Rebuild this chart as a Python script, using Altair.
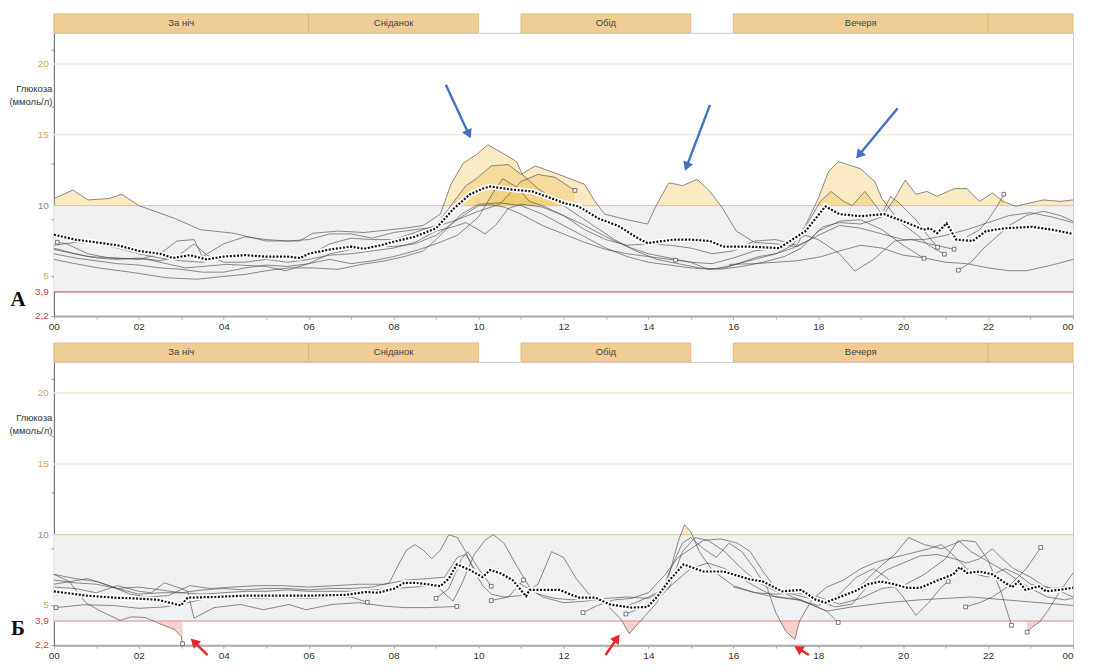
import math
import altair as alt
import pandas as pd

# ---------------- data ----------------
HOUR_TICKS = list(range(0, 25))
Y_LABELS = [2.2, 3.9, 5, 10, 15, 20]
Y_LABEL_COLORS = ["#d03a3a", "#d03a3a", "#cfa85a", "#8a8a8a", "#cfa85a", "#cfa85a"]
Y_MINOR = [3, 4, 6, 7, 8, 9, 11, 12, 13, 14, 16, 17, 18, 19, 21, 22]
TARGET_LOW, TARGET_HIGH = 3.9, 10
MEAL_NAMES = ["За ніч", "Сніданок", "Обід", "Вечеря", ""]
MEAL_START = [0, 6, 11, 16, 22]
MEAL_END = [6, 10, 15, 22, 24]

A_MEDIAN = [(0, 7.95), (0.5, 7.6), (1, 7.4), (1.5, 7.2), (2, 6.8), (2.5, 6.6), (2.8, 6.3), (3.2, 6.5), (3.6, 6.2),
            (4, 6.4), (4.5, 6.5), (5, 6.4), (5.5, 6.4), (5.8, 6.3), (6, 6.6), (6.5, 6.9), (7, 7.1), (7.3, 6.95),
            (7.7, 7.2), (8.0, 7.45), (8.5, 7.8), (9.0, 8.4), (9.42, 9.8), (9.8, 10.8), (10.1, 11.2), (10.27, 11.35),
            (10.73, 11.15), (11.27, 11.0), (11.73, 10.5), (12.04, 10.15), (12.35, 9.95), (12.82, 9.1), (13.3, 8.55),
            (13.75, 7.7), (13.98, 7.35), (14.6, 7.6), (14.98, 7.6), (15.45, 7.5), (15.76, 7.1), (16.38, 7.1),
            (17.08, 7.0), (17.7, 8.2), (18.17, 9.95), (18.5, 9.4), (19.0, 9.25), (19.55, 9.4), (20.0, 8.9),
            (20.48, 8.3), (20.63, 8.4), (20.8, 8.05), (21.02, 8.75), (21.25, 7.6), (21.64, 7.5), (21.95, 8.2),
            (22.4, 8.4), (23.04, 8.5), (23.5, 8.3), (24, 8.0)]

A_T1 = [(0, 10.5), (0.45, 11.1), (0.8, 10.4), (1.3, 10.5), (1.6, 10.8), (2.0, 10.0), (2.84, 9.1), (3.45, 8.3),
        (4.23, 8.05), (5.0, 7.5), (5.78, 7.5), (6.1, 8.05), (6.7, 8.2), (7.3, 8.1), (8.25, 8.4), (8.7, 8.6),
        (9.1, 9.4), (9.35, 11.5), (9.64, 13.0), (9.95, 13.6), (10.22, 14.3), (10.57, 13.7), (10.9, 13.1),
        (11.03, 12.2), (11.4, 11.2), (11.8, 10.4), (12.2, 9.6), (12.7, 8.6), (13.2, 7.6), (13.7, 6.8), (14.2, 6.2),
        (14.7, 5.9), (15.2, 5.6), (15.7, 5.5), (16.2, 5.7), (16.7, 6.0), (17.2, 6.4), (17.6, 7.0), (18.0, 8.2),
        (18.5, 8.9), (19.0, 9.0), (19.5, 8.3), (20.0, 7.2), (20.49, 6.28)]
A_T2 = [(0, 7.2), (0.5, 7.4), (1.0, 7.3), (1.5, 7.0), (2.0, 6.6), (2.5, 6.3), (3.0, 6.1), (3.5, 6.0), (4.0, 6.3),
        (4.5, 6.5), (5.0, 6.5), (5.5, 6.3), (6.0, 6.5), (6.5, 7.3), (7.0, 7.7), (7.5, 7.6), (8.0, 7.6), (8.5, 8.1),
        (9.0, 8.6), (9.4, 10.2), (9.7, 11.4), (9.95, 11.9), (10.3, 12.8), (10.7, 12.9), (11.0, 12.2), (11.34, 12.8),
        (11.8, 12.3), (12.2, 11.85), (12.5, 11.5), (12.74, 10.3), (12.97, 9.4), (13.5, 9.0), (13.98, 8.7),
        (14.2, 10.1), (14.48, 11.6), (14.68, 11.5), (14.8, 11.4), (15.15, 11.85), (15.45, 11.0), (15.75, 9.8),
        (16.07, 8.2), (16.5, 7.4), (17.0, 7.3), (17.5, 7.1), (18.0, 7.9), (18.5, 8.6), (19.0, 8.4), (19.5, 8.0),
        (20.0, 7.6), (20.5, 7.6), (21.0, 7.9), (21.5, 8.3), (22.0, 8.8), (22.5, 9.3), (23.0, 9.5), (23.5, 9.2),
        (24, 8.8)]
A_T3 = [(0, 6.6), (0.5, 6.3), (1.0, 6.1), (1.5, 5.9), (2.0, 5.8), (2.5, 5.6), (3.0, 5.5), (3.5, 5.3), (4.0, 5.3),
        (4.5, 5.6), (5.0, 5.8), (5.5, 5.7), (6.0, 5.9), (6.5, 6.2), (7.0, 5.9), (7.5, 6.1), (8.0, 6.4), (8.5, 6.8),
        (9.0, 7.3), (9.5, 7.9), (10.0, 9.2), (10.34, 10.9), (10.57, 11.9), (10.9, 11.3), (11.2, 10.3), (11.5, 10.0),
        (12.0, 9.3), (12.5, 8.6), (13.0, 7.8), (13.5, 7.1), (14.0, 6.6), (14.5, 6.3), (15.0, 6.0), (15.4, 5.5),
        (15.8, 5.6), (16.2, 6.0), (16.6, 6.4), (17.0, 6.6), (17.4, 7.0), (17.8, 7.6), (18.1, 8.5), (18.5, 8.8),
        (19.0, 8.7), (19.5, 9.2), (19.8, 10.5), (20.05, 11.8), (20.3, 10.8), (20.56, 11.0), (20.8, 10.65),
        (21.2, 11.2), (21.5, 11.2), (21.8, 10.3), (22.1, 10.9), (22.35, 10.3), (22.65, 9.95), (23.0, 10.2),
        (23.3, 10.4), (23.7, 10.3), (24, 10.4)]
A_T4 = [(0, 6.2), (0.5, 5.9), (1.05, 5.6), (1.8, 5.3), (2.67, 4.9), (3.37, 4.8), (4.0, 5.0), (4.53, 5.15),
        (5.0, 5.4), (5.53, 5.6), (6.1, 5.6), (6.7, 5.5), (7.25, 5.85), (7.8, 6.1), (8.25, 6.4), (8.7, 6.8),
        (9.0, 7.6), (9.3, 8.5), (9.6, 9.4), (10.0, 10.1), (10.5, 10.2), (11.0, 10.0), (11.5, 9.4), (12.0, 8.6),
        (12.5, 7.8), (13.0, 7.0), (13.5, 6.4), (14.0, 6.0), (14.5, 5.8), (15.0, 5.6), (15.5, 5.5), (16.0, 5.8),
        (16.5, 6.2), (17.0, 6.6), (17.4, 7.2), (17.7, 8.6), (18.0, 10.5), (18.24, 12.4), (18.47, 13.1),
        (18.6, 13.0), (19.0, 12.6), (19.33, 11.7), (19.5, 10.5), (19.9, 8.9), (20.3, 8.0), (20.6, 7.2),
        (20.97, 6.57)]
A_T5 = [(0, 7.0), (0.5, 6.6), (1.0, 6.3), (1.5, 6.2), (2.0, 6.3), (2.5, 6.1), (2.9, 6.4), (3.3, 7.3), (3.6, 6.5),
        (4.0, 6.0), (4.5, 6.0), (5.0, 6.2), (5.5, 6.0), (6.0, 6.2), (6.5, 6.5), (7.0, 6.6), (7.5, 6.8), (8.0, 7.0),
        (8.5, 7.4), (9.0, 8.2), (9.4, 8.5), (9.7, 8.8), (10.0, 8.3), (10.15, 8.0), (10.4, 8.6), (10.7, 9.8),
        (11.0, 10.1), (11.5, 9.9), (12.0, 9.3), (12.5, 8.3), (13.0, 7.6), (13.5, 7.2), (14.0, 7.3), (14.5, 7.2),
        (15.0, 7.0), (15.5, 6.6), (16.0, 6.8), (16.5, 7.5), (17.0, 7.6), (17.5, 7.2), (17.8, 9.0), (18.05, 10.3),
        (18.3, 11.0), (18.6, 10.3), (18.8, 10.0), (19.1, 11.0), (19.3, 10.2), (19.5, 9.4), (19.7, 10.65),
        (19.9, 10.2), (20.3, 9.0), (20.6, 7.8), (20.81, 7.06)]
A_T6 = [(0.08, 7.41), (0.3, 7.3), (0.8, 6.6), (1.3, 6.3), (2.0, 6.2), (2.5, 6.6), (2.9, 7.5), (3.3, 7.6),
        (3.5, 6.4), (4.0, 7.3), (4.5, 7.8), (5.0, 7.6), (5.5, 7.5), (6.0, 7.6), (6.5, 8.0), (7.0, 8.0), (7.5, 7.7),
        (8.0, 8.1), (8.5, 8.3), (9.0, 8.5), (9.5, 9.0), (10.0, 9.6), (10.5, 10.1), (11.0, 11.7), (11.4, 12.2),
        (11.8, 12.0), (12.27, 11.07)]
A_T7 = [(0, 6.9), (0.8, 6.4), (2.2, 6.2), (3.1, 5.6), (4.07, 5.85), (5.0, 5.7), (5.46, 5.4), (6.0, 5.9),
        (6.5, 6.6), (7.0, 6.9), (7.5, 7.2), (8.0, 7.1), (8.5, 7.3), (9.0, 7.9), (9.5, 9.0), (10.0, 10.0),
        (10.3, 10.05), (10.6, 9.9), (11.0, 9.4), (11.5, 8.6), (12.0, 8.0), (12.5, 7.4), (13.0, 6.9), (13.5, 6.6),
        (14.0, 6.4), (14.64, 6.15)]
A_T8 = [(14.64, 6.15), (15.0, 6.0), (15.5, 5.9), (16.0, 6.3), (16.5, 6.8), (17.0, 7.0), (17.3, 7.4), (17.7, 7.9),
        (18.0, 7.6), (18.5, 6.6), (18.86, 5.37), (19.3, 6.2), (19.8, 7.5), (20.2, 7.6), (20.6, 7.3), (21.2, 6.92)]
A_T9 = [(21.3, 5.44), (21.6, 6.0), (21.9, 7.0), (22.2, 7.8), (22.5, 8.6), (22.9, 9.3), (23.3, 9.6), (23.7, 9.3),
        (24, 8.9)]
A_T10 = [(15.9, 5.85), (16.5, 5.9), (17.0, 6.0), (17.5, 6.1), (18.08, 6.4), (18.5, 6.8), (19.0, 7.2), (19.5, 7.0),
         (20.0, 6.5), (20.5, 6.3), (21.0, 6.0), (21.5, 5.9), (22.0, 5.6), (22.5, 5.4), (22.9, 5.4), (23.5, 5.8),
         (24, 6.2)]
A_T11 = [(21.5, 7.8), (21.8, 8.3), (22.0, 9.0), (22.2, 9.9), (22.37, 10.8)]
A_SQUARES = [(0.08, 7.41), (12.27, 11.07), (14.64, 6.15), (20.49, 6.28), (20.81, 7.06), (20.97, 6.57),
             (21.2, 6.92), (21.3, 5.44), (22.37, 10.8)]
A_ARROWS = [(9.23, 18.54, 9.83, 14.66), (15.45, 17.11, 14.85, 12.36), (19.87, 16.87, 18.87, 13.24)]

B_MEDIAN = [(0, 6.0), (0.75, 5.7), (1.45, 5.55), (1.9, 5.5), (2.45, 5.4), (2.99, 5.0), (3.15, 5.55), (3.77, 5.6),
            (4.54, 5.7), (5.3, 5.7), (6.1, 5.7), (6.86, 5.75), (7.33, 5.95), (7.64, 5.9), (8.02, 6.2), (8.25, 6.6),
            (8.5, 6.6), (8.8, 6.5), (9.1, 6.36), (9.3, 6.9), (9.49, 7.9), (9.8, 7.5), (10.1, 7.0), (10.27, 7.5),
            (10.5, 7.3), (10.8, 6.8), (11.12, 5.65), (11.2, 6.1), (11.9, 6.1), (12.36, 5.56), (12.75, 5.56),
            (13.1, 5.07), (13.6, 4.85), (13.98, 4.9), (14.2, 5.6), (14.5, 6.8), (14.83, 7.9), (15.3, 7.4),
            (15.77, 7.4), (16.38, 6.85), (16.69, 6.7), (17.15, 6.0), (17.6, 6.1), (17.93, 5.42), (18.17, 5.2),
            (18.46, 5.55), (18.86, 6.0), (19.17, 6.5), (19.47, 6.7), (19.79, 6.5), (20.1, 6.25), (20.4, 6.25),
            (20.86, 6.83), (21.18, 7.2), (21.33, 7.7), (21.5, 7.3), (21.8, 7.4), (22.1, 7.2), (22.4, 6.6),
            (22.57, 6.3), (22.72, 6.7), (22.88, 6.1), (23.2, 6.35), (23.36, 6.0), (23.67, 6.1), (24, 6.25)]

B_T1 = [(0, 7.2), (0.36, 6.7), (0.75, 5.2), (1.1, 4.6), (1.56, 3.95), (1.83, 4.2), (2.15, 4.15), (2.53, 3.66),
        (2.84, 3.3), (3.0, 2.8), (3.03, 2.3)]
B_T2 = [(0, 6.3), (0.5, 6.2), (1.0, 5.9), (1.5, 6.4), (2.0, 6.0), (2.3, 5.9), (2.6, 6.6), (3.0, 6.2), (3.15, 6.0),
        (3.3, 4.1), (3.77, 4.85), (4.4, 5.07), (4.93, 4.7), (5.54, 5.07), (5.93, 4.7), (6.55, 5.07), (7.17, 5.2),
        (7.8, 4.95), (8.25, 4.85), (8.8, 4.85), (9.49, 4.93)]
B_T3 = [(0, 6.8), (0.5, 6.6), (1.0, 6.5), (1.5, 6.2), (2.0, 6.3), (2.5, 6.1), (3.0, 5.9), (3.5, 6.1), (4.0, 6.2),
        (4.5, 6.1), (5.0, 6.2), (5.5, 6.2), (6.0, 6.1), (6.5, 6.2), (7.0, 6.2), (7.5, 6.3), (7.9, 6.6), (8.1, 7.8),
        (8.3, 8.9), (8.5, 9.3), (8.7, 8.9), (8.9, 8.3), (9.1, 8.9), (9.3, 10.0), (9.5, 9.8), (9.7, 8.8),
        (9.9, 7.4), (10.1, 6.4), (10.3, 5.8), (10.6, 5.6), (11.0, 5.7), (11.4, 6.5), (11.72, 8.8), (12.0, 8.4),
        (12.3, 6.9), (12.6, 5.8), (13.0, 5.2), (13.4, 4.9), (13.7, 5.2), (14.0, 5.6), (14.4, 6.2), (14.7, 9.5),
        (14.85, 10.7), (15.0, 10.2), (15.2, 8.8), (15.5, 7.5), (16.0, 6.4), (16.5, 5.9), (17.0, 5.8), (17.5, 5.9),
        (18.0, 5.6), (18.5, 5.1), (19.0, 5.5), (19.5, 6.2), (20.0, 6.4), (20.5, 7.2), (21.0, 8.3), (21.3, 9.6),
        (21.6, 8.8), (22.0, 8.1), (22.4, 7.4), (22.7, 6.8), (23.0, 6.2), (23.4, 5.6), (23.8, 5.4), (24, 5.5)]
B_T4 = [(0, 7.2), (0.5, 6.9), (1.0, 6.7), (1.5, 6.2), (2.0, 5.8), (2.5, 5.9), (3.0, 5.9), (3.5, 5.8), (4.0, 5.9),
        (4.5, 6.0), (5.0, 6.0), (5.5, 6.1), (6.0, 6.0), (6.5, 6.0), (7.0, 6.0), (7.5, 6.1), (8.0, 6.2), (8.5, 6.3),
        (9.0, 6.4), (9.4, 5.3), (9.6, 6.5), (9.9, 8.6), (10.15, 9.6), (10.35, 10.0), (10.6, 9.4), (10.9, 7.8),
        (11.2, 6.3), (11.5, 5.6), (12.0, 5.2), (12.5, 5.3), (13.0, 5.5), (13.5, 5.6), (14.0, 5.5), (14.5, 6.3),
        (14.8, 8.8), (15.1, 9.8), (15.4, 9.6), (15.8, 8.8), (16.2, 7.6), (16.6, 6.6), (17.0, 6.0), (17.4, 5.8),
        (17.8, 5.5), (18.2, 5.3), (18.6, 5.6), (19.0, 6.4), (19.4, 7.6), (19.8, 8.6), (20.13, 9.8), (20.5, 9.3),
        (20.9, 9.0), (21.4, 9.6), (21.7, 9.5), (22.0, 8.2), (22.3, 6.0), (22.55, 3.6)]
B_T5 = [(0, 6.5), (0.8, 6.9), (1.3, 6.4), (1.8, 5.8), (2.2, 5.6), (2.7, 5.7), (3.2, 6.4), (3.7, 6.2), (4.2, 6.3),
        (4.8, 6.4), (5.4, 6.4), (6.0, 6.3), (6.6, 6.4), (7.2, 6.5), (7.8, 6.5), (8.3, 6.8), (8.8, 6.9), (9.2, 7.0),
        (9.5, 8.4), (9.7, 8.6), (9.9, 7.6), (10.1, 6.9), (10.3, 7.4), (10.6, 7.0), (11.0, 6.5), (11.4, 5.8),
        (11.8, 5.5), (12.2, 5.4), (12.6, 5.6), (12.97, 5.2), (13.36, 4.0), (13.55, 3.0), (13.9, 4.2), (14.2, 5.2),
        (14.5, 7.4), (14.8, 9.4), (15.0, 9.8), (15.3, 9.0), (15.6, 8.4), (15.9, 9.4), (16.2, 8.8), (16.5, 7.6),
        (16.8, 6.2), (17.0, 4.5), (17.23, 3.2), (17.45, 2.6), (17.56, 3.9), (17.85, 5.4), (18.2, 6.3), (18.6, 6.8),
        (19.0, 7.6), (19.4, 8.1), (19.8, 8.4), (20.2, 8.7), (20.6, 9.0), (20.9, 9.3), (21.2, 8.5), (21.6, 7.3),
        (22.0, 7.0), (22.4, 7.6), (22.7, 7.2), (23.0, 6.5), (23.5, 6.2), (24, 6.4)]
B_T6 = [(0.05, 4.85), (0.7, 5.05), (1.4, 5.0), (2.0, 4.8), (2.6, 4.9), (3.0, 5.1), (3.6, 5.5), (4.2, 5.6),
        (4.8, 5.5), (5.4, 5.6), (6.0, 5.5), (6.6, 5.6), (7.0, 5.6), (7.38, 5.23)]
B_T7 = [(12.46, 4.5), (12.8, 5.0), (13.2, 5.4), (13.6, 5.5), (14.0, 5.9), (14.4, 7.2), (14.7, 8.4), (15.0, 9.0),
        (15.3, 9.6), (15.7, 9.7), (16.1, 9.4), (16.4, 8.8), (16.7, 7.4), (17.0, 6.2), (17.4, 5.6), (17.8, 5.1),
        (18.2, 4.6), (18.47, 3.8)]
B_T8 = [(13.47, 4.4), (13.8, 4.8), (14.2, 5.4), (14.6, 6.6), (15.0, 7.6), (15.4, 8.0), (15.8, 7.6), (16.2, 6.9),
        (16.6, 6.2), (17.0, 5.6), (17.5, 5.4), (18.0, 5.0), (18.5, 5.8), (18.9, 7.0), (19.3, 7.6), (19.6, 7.0),
        (20.0, 5.6), (20.3, 4.3), (20.6, 5.2), (20.9, 6.3), (21.06, 6.7)]
B_T9 = [(18.0, 5.3), (18.4, 4.9), (18.8, 5.1), (19.2, 6.5), (19.6, 7.5), (20.0, 8.0), (20.4, 8.5), (20.8, 8.6),
        (21.2, 8.3), (21.5, 8.0), (21.8, 8.3), (22.1, 9.0), (22.3, 8.4), (22.6, 7.6), (23.0, 7.0), (23.3, 6.4),
        (23.7, 6.0), (24, 5.6)]
B_T10 = [(21.47, 4.9), (21.8, 5.2), (22.1, 5.6), (22.5, 6.4), (22.9, 7.6), (23.24, 9.1)]
B_T11 = [(22.92, 3.12), (23.05, 3.5), (23.2, 3.8), (23.4, 4.6), (23.67, 5.9), (24, 7.3)]
B_T12 = [(16.0, 6.3), (16.8, 5.7), (17.6, 5.4), (18.2, 4.6), (18.8, 4.9), (19.6, 5.2), (20.4, 5.4), (21.0, 5.5),
         (21.6, 5.6), (22.4, 5.4), (23.2, 5.2), (24, 5.0)]
B_T13 = [(9.0, 5.5), (9.3, 6.2), (9.6, 8.3), (9.75, 8.8), (10.0, 7.6), (10.3, 6.36)]
B_T14 = [(10.3, 5.35), (10.7, 5.6), (11.06, 6.8)]
B_SQUARES = [(3.03, 2.3), (9.49, 4.93), (0.05, 4.85), (7.38, 5.23), (9.0, 5.5), (10.3, 6.36), (10.3, 5.35),
             (11.06, 6.8), (12.46, 4.5), (13.47, 4.4), (18.47, 3.8), (21.06, 6.7), (22.55, 3.6), (21.47, 4.9),
             (23.24, 9.1), (22.92, 3.12)]
B_ARROWS = [(3.62, 1.5, 3.2, 2.73), (12.99, 1.5, 13.34, 3.03), (17.78, 1.5, 17.41, 2.18)]

A_TRACES = [A_T1, A_T2, A_T3, A_T4, A_T5, A_T6, A_T7, A_T8, A_T9, A_T10, A_T11]
B_TRACES = [B_T1, B_T2, B_T3, B_T4, B_T5, B_T6, B_T7, B_T8, B_T9, B_T10, B_T11, B_T12, B_T13, B_T14]

# ---------------- layout / style ----------------
W, H = 1022, 284
BAND_H = 19
GAP = 27
PX_H = W / 24.0
PX_V = H / 20.0
FONT = "Liberation Sans"

xs = alt.Scale(domain=[0, 24], nice=False, zero=False)
ys = alt.Scale(domain=[2.2, 22.2], nice=False, zero=False)


def fill_points(pts, thr, above):
    out = []
    for i, (h, v) in enumerate(pts):
        if i > 0:
            h0, v0 = pts[i - 1]
            if (v0 - thr) * (v - thr) < 0:
                f = (thr - v0) / (v - v0)
                out.append((h0 + f * (h - h0), thr))
        out.append((h, max(v, thr) if above else min(v, thr)))
    return out


def trace_df(traces):
    rows = []
    for k, pts in enumerate(traces):
        for h, v in pts:
            rows.append({"t": f"t{k}", "h": h, "v": v})
    return pd.DataFrame(rows)


def fill_df(traces, thr, above):
    rows = []
    for k, pts in enumerate(traces):
        for h, v in fill_points(pts, thr, above):
            rows.append({"t": f"t{k}", "h": h, "v": v, "b": thr})
    return pd.DataFrame(rows)


def arrow_dfs(arrows):
    lines, heads = [], []
    for ht, vt, hh, vh in arrows:
        dx = (hh - ht) * PX_H
        dy = -(vh - vt) * PX_V
        L = math.hypot(dx, dy)
        ux, uy = dx / L, dy / L
        ch = hh - 6 * ux / PX_H
        cv = vh + 6 * uy / PX_V
        ang = math.degrees(math.atan2(dx, -dy)) % 360
        lines.append({"h0": ht, "v0": vt, "h1": ch, "v1": cv})
        heads.append({"h": ch, "v": cv, "a": ang})
    return pd.DataFrame(lines), pd.DataFrame(heads)


def band():
    df = pd.DataFrame({"s": MEAL_START, "e": MEAL_END, "name": MEAL_NAMES})
    df["m"] = (df["s"] + df["e"]) / 2
    rect = alt.Chart(df).mark_rect(fill="#f0cd94", stroke="#ddb171", strokeWidth=0.8).encode(
        x=alt.X("s:Q", scale=xs, axis=None), x2="e:Q")
    txt = alt.Chart(df).mark_text(font=FONT, fontSize=9.5, color="#444").encode(
        x=alt.X("m:Q", scale=xs, axis=None), text="name:N")
    return alt.layer(rect, txt).properties(width=W, height=BAND_H,
                                           view=alt.ViewBackground(stroke="transparent"))


def spacer():
    return alt.Chart(pd.DataFrame({"a": [0]})).mark_point(opacity=0).encode(
        x=alt.X("a:Q", axis=None), y=alt.Y("a:Q", axis=None)).properties(
        width=W, height=GAP, view=alt.ViewBackground(stroke="transparent"))


def panel(traces, median, squares, arrows, arrow_color, letter, low_color, low_width):
    yaxis = alt.Axis(
        values=sorted(Y_LABELS + Y_MINOR), labels=False, grid=False,
        tickSize=3, tickColor="#999", domainColor="#666", domainWidth=1,
        title=["Глюкоза", "(ммоль/л)"], titleAngle=0, titleAlign="right", titleBaseline="top",
        titleX=-2, titleY=51, titleFont=FONT, titleFontSize=9.5, titleFontWeight="normal",
        titleColor="#333", titleLineHeight=13)
    xaxis = alt.Axis(
        values=HOUR_TICKS, grid=False, labelOverlap=False,
        labelExpr="datum.value % 2 == 1 ? '' : (datum.value == 24 ? '00' : (datum.value < 10 ? '0' + datum.value : '' + datum.value))",
        labelAlign={"expr": "datum.value == 24 ? 'right' : 'center'"},
        labelFont=FONT, labelFontSize=10, labelColor="#333", labelPadding=2,
        tickSize=3, tickColor="#aaa", domainColor="#aaa", domainWidth=2, title=None)

    target = alt.Chart(pd.DataFrame({"a": [0], "b": [24], "lo": [TARGET_LOW], "hi": [TARGET_HIGH]})).mark_rect(
        color="#eff0f1").encode(x=alt.X("a:Q", scale=xs, axis=xaxis), x2="b:Q",
                               y=alt.Y("lo:Q", scale=ys, axis=yaxis), y2="hi:Q")

    ylab = pd.DataFrame({"v": Y_LABELS, "c": Y_LABEL_COLORS,
                         "s": [f"{v:g}".replace(".", ",") for v in Y_LABELS]})
    ylabels = alt.Chart(ylab).mark_text(font=FONT, fontSize=10, align="right", baseline="middle",
                                        clip=False).encode(
        x=alt.value(-5), y=alt.Y("v:Q", scale=ys), text="s:N", color=alt.Color("c:N", scale=None))

    hl = pd.DataFrame({"y": [20, 15, 10, TARGET_LOW],
                       "c": ["#f3ead6", "#f3ead6", "#d8c7a6", low_color],
                       "w": [1.5, 1.5, 1.0, low_width]})
    hrules = alt.Chart(hl).mark_rule().encode(
        y=alt.Y("y:Q", scale=ys), color=alt.Color("c:N", scale=None),
        strokeWidth=alt.StrokeWidth("w:Q", scale=None))

    hi_df = fill_df(traces, TARGET_HIGH, True)
    lo_df = fill_df(traces, TARGET_LOW, False)
    hi_area = alt.Chart(hi_df).mark_area(color="#efc45a", opacity=0.36).encode(
        x=alt.X("h:Q", scale=xs), y=alt.Y("v:Q", scale=ys, stack=None), y2="b:Q", detail="t:N")
    lo_area = alt.Chart(lo_df).mark_area(color="#f2a6a6", opacity=0.55).encode(
        x=alt.X("h:Q", scale=xs), y=alt.Y("v:Q", scale=ys, stack=None), y2="b:Q", detail="t:N")

    tdf = trace_df(traces)
    lines = alt.Chart(tdf).mark_line(color="#4a4a4a", strokeWidth=0.75, opacity=0.85).encode(
        x=alt.X("h:Q", scale=xs), y=alt.Y("v:Q", scale=ys), detail="t:N")

    sq = pd.DataFrame(squares, columns=["h", "v"])
    sqm = alt.Chart(sq).mark_point(shape="square", size=14, filled=True, fill="white",
                                   stroke="#444", strokeWidth=0.7, opacity=1).encode(
        x=alt.X("h:Q", scale=xs), y=alt.Y("v:Q", scale=ys))

    md = pd.DataFrame(median, columns=["h", "v"])
    halo = alt.Chart(md).mark_line(color="white", strokeWidth=5.5).encode(
        x=alt.X("h:Q", scale=xs), y=alt.Y("v:Q", scale=ys))
    dots = alt.Chart(md).mark_line(color="#111", strokeWidth=2.2, strokeDash=[2, 1.6]).encode(
        x=alt.X("h:Q", scale=xs), y=alt.Y("v:Q", scale=ys))

    ldf, hdf = arrow_dfs(arrows)
    ar_line = alt.Chart(ldf).mark_rule(color=arrow_color, strokeWidth=2.4, clip=False).encode(
        x=alt.X("h0:Q", scale=xs), y=alt.Y("v0:Q", scale=ys), x2="h1:Q", y2="v1:Q")
    ar_head = alt.Chart(hdf).mark_point(shape="triangle-up", size=110, filled=True, color=arrow_color,
                                        opacity=1, clip=False).encode(
        x=alt.X("h:Q", scale=xs), y=alt.Y("v:Q", scale=ys), angle=alt.Angle("a:Q", scale=None))

    lab = alt.Chart(pd.DataFrame({"s": [letter]})).mark_text(
        font="Liberation Serif", fontSize=21, fontWeight="bold", color="#111", align="center",
        baseline="middle").encode(x=alt.value(-36), y=alt.value(268), text="s:N")

    return alt.layer(target, ylabels, hrules, hi_area, lo_area, lines, sqm, halo, dots, ar_line, ar_head,
                     lab).properties(width=W, height=H, view=alt.ViewBackground(stroke="#c9c9c9", strokeWidth=1))


chart = alt.vconcat(
    band(),
    panel(A_TRACES, A_MEDIAN, A_SQUARES, A_ARROWS, "#4270c4", "А", "#a8404c", 1.0),
    spacer(),
    band(),
    panel(B_TRACES, B_MEDIAN, B_SQUARES, B_ARROWS, "#e5262b", "Б", "#e6aab3", 1.6),
    spacing=0, bounds="flush",
).properties(
    padding={"left": 0, "top": 4, "right": 0, "bottom": 0}
).configure_view(strokeWidth=0).configure(font=FONT)

chart.save("out.html", embed_options={"renderer": "svg", "actions": False})
